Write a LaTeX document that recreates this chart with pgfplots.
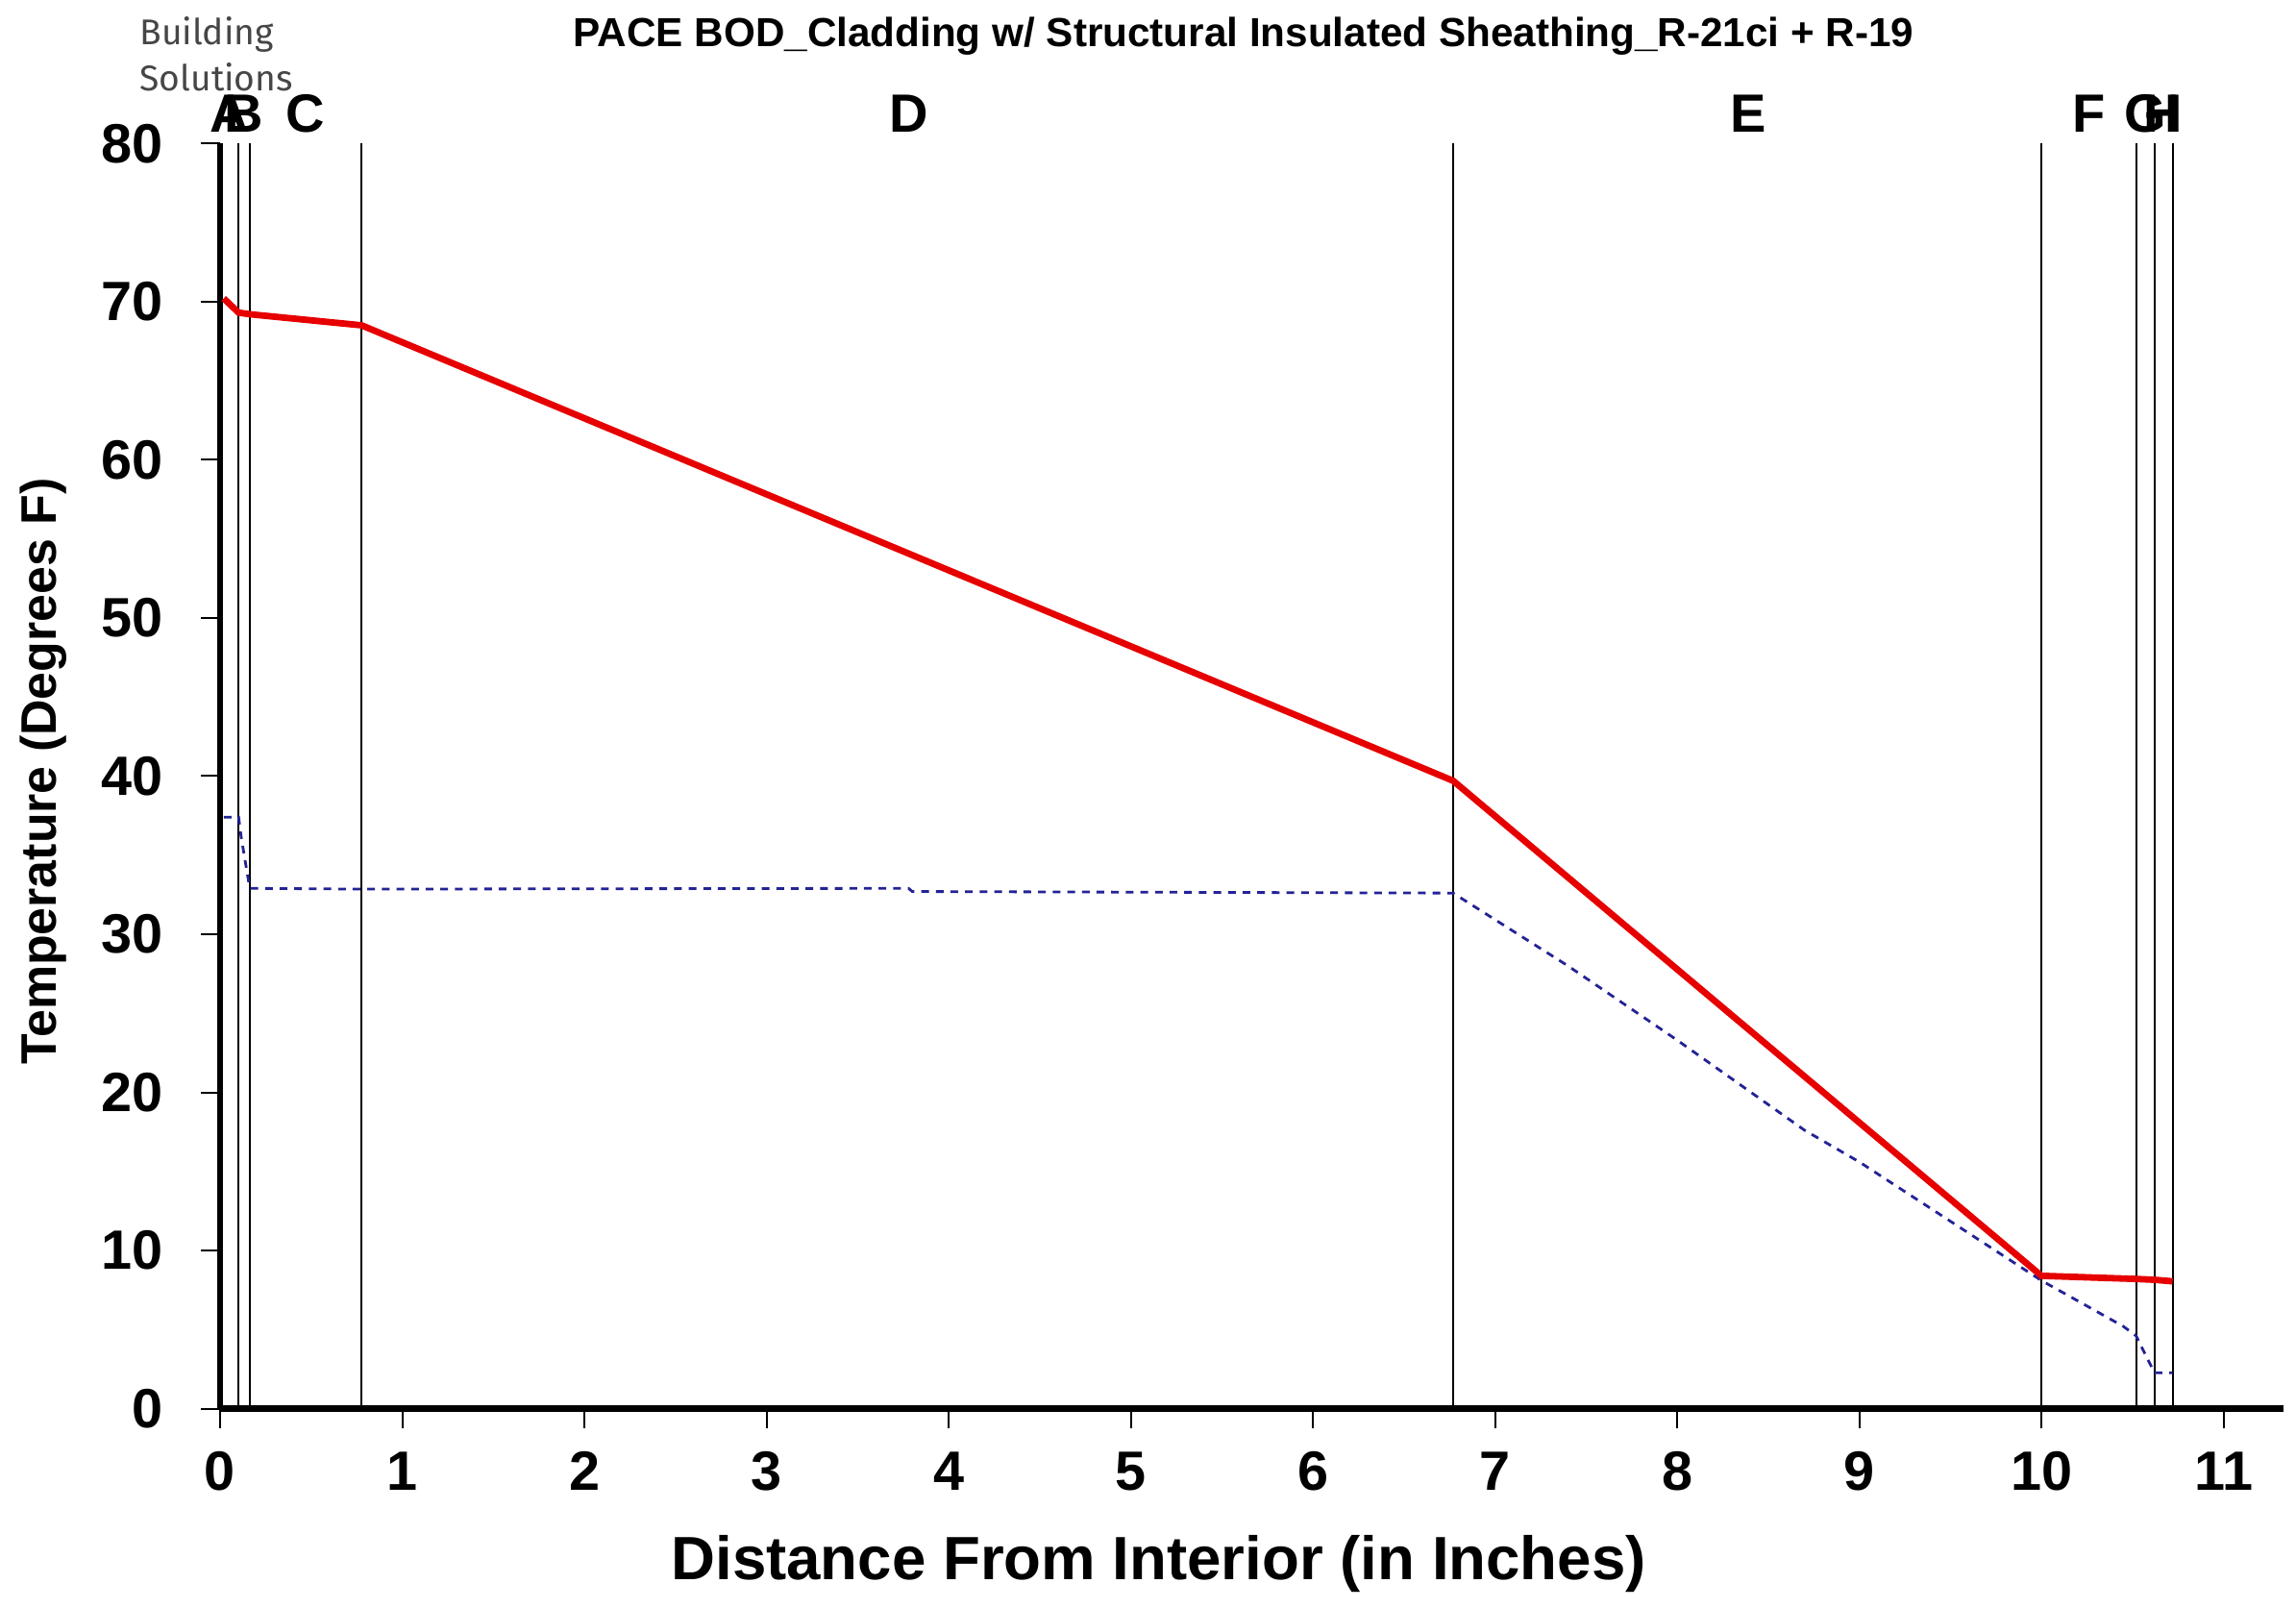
\documentclass[border=0pt]{standalone}
\usepackage{pgfplots}
\pgfplotsset{compat=1.18}
\usepackage{fontspec}
\setmainfont{Liberation Sans}
\newfontfamily\logofont{Fira Sans}

\definecolor{tempred}{RGB}{230,0,0}
\definecolor{dewblue}{RGB}{35,35,150}
\definecolor{logogray}{RGB}{70,70,70}

\begin{document}
\begin{tikzpicture}
\path[use as bounding box] (-57.25pt,-51.6pt) rectangle (540pt,366.4pt);
\begin{axis}[
  at={(0,0)}, anchor=south west,
  scale only axis, width=536.8pt, height=329.1pt,
  xmin=0, xmax=11.33, ymin=0, ymax=80,
  axis x line=bottom, axis y line=left,
  axis line style={line width=1.7pt, -},
  xtick={0,1,...,11}, ytick={0,10,...,80},
  tick align=outside, major tick length=5pt,
  tick style={black, line width=0.5pt},
  /pgf/number format/assume math mode=true,
  ticklabel style={font=\bfseries\fontsize{14.4}{16}\selectfont, inner sep=0pt},
  xticklabel style={anchor=north, yshift=-6pt},
  yticklabel style={anchor=east, xshift=-9.7pt},
  clip=false,
]
% layer boundaries
\addplot[ycomb, black, line width=0.5pt, mark=none] coordinates {
(0.102,80) (0.163,80) (0.777,80) (6.77,80) (10.0,80) (10.52,80) (10.62,80) (10.72,80)};

% dew point
\addplot[dewblue, line width=0.7pt, dash pattern=on 2pt off 1.8pt] table {
x y
0.02 37.4
0.102 37.4
0.115 36.2
0.163 32.9
0.777 32.85
3.78 32.9
3.80 32.7
6.77 32.6
7.40 28.0
8.00 23.3
8.70 17.6
9.00 15.6
10.00 8.1
10.45 5.2
10.52 4.6
10.62 2.27
10.72 2.27
};

% temperature
\addplot[tempred, line width=1.7pt] table {
x y
0.02 70.2
0.102 69.3
0.163 69.2
0.777 68.5
6.77 39.7
10.00 8.4
10.52 8.2
10.62 8.15
10.72 8.05
};

\begin{scope}[font=\bfseries\fontsize{14}{16}\selectfont]
\node[anchor=base] at (axis cs:0.051,80.7) {A};
\node[anchor=base] at (axis cs:0.13,80.7) {B};
\node[anchor=base] at (axis cs:0.47,80.7) {C};
\node[anchor=base] at (axis cs:3.78,80.7) {D};
\node[anchor=base] at (axis cs:8.39,80.7) {E};
\node[anchor=base] at (axis cs:10.26,80.7) {F};
\node[anchor=base] at (axis cs:10.57,80.7) {G};
\node[anchor=base] at (axis cs:10.67,80.7) {H};
\node[anchor=base] at (axis cs:10.72,80.7) {I};
\end{scope}

\node[anchor=base, inner sep=0pt, font=\bfseries\fontsize{10.56}{12}\selectfont]
  at (axis cs:5.62,86.1) {PACE BOD\_Cladding w/ Structural Insulated Sheathing\_R-21ci + R-19};

\node[anchor=base west, inner sep=0pt, text=logogray, font=\logofont\fontsize{9.3}{11}\selectfont]
  at (axis cs:-0.445,86.25) {Building};
\node[anchor=base west, inner sep=0pt, text=logogray, font=\logofont\fontsize{9.3}{11}\selectfont]
  at (axis cs:-0.445,83.3) {Solutions};

\node[anchor=base, inner sep=0pt, font=\bfseries\fontsize{15.9}{18}\selectfont]
  at (axis cs:5.153,-10.83) {Distance From Interior (in Inches)};
\node[anchor=base, rotate=90, inner sep=0pt, font=\bfseries\fontsize{12.97}{15}\selectfont]
  at (axis cs:-0.90,40.3) {Temperature (Degrees F)};
\end{axis}
\end{tikzpicture}
\end{document}
